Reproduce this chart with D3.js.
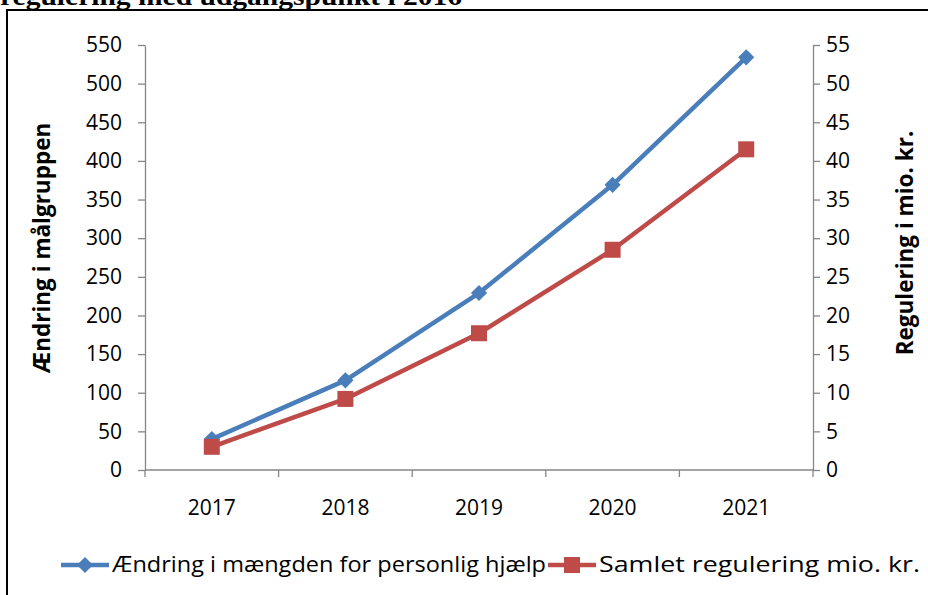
<!DOCTYPE html>
<html>
<head>
<meta charset="utf-8">
<script src="https://cdn.jsdelivr.net/npm/d3@7"></script>
<style>
  body { margin: 0; background: #fff; }
  svg { display: block; }
</style>
</head>
<body>
<svg id="chart" width="928" height="595"></svg>
<script>
// Data
var years = ['2017', '2018', '2019', '2020', '2021']
var maengde = [40, 116, 229, 369, 534]       // left axis
var regulering = [3.0, 9.2, 17.7, 28.5, 41.5] // right axis
var leftTicks = d3.range(0, 551, 50)
var rightTicks = d3.range(0, 56, 5)
var seriesNames = ['Ændring i mængden for personlig hjælp', 'Samlet regulering mio. kr.']

var font = '"Open Sans", Carlito, Calibri, sans-serif',
    axisColor = '#868686',
    blue = '#4a7ebb',
    red = '#be4b48'

var svg = d3.select('#chart')

// Cut-off heading from the page above the chart
svg.append('text')
  .attr('x', 0)
  .attr('y', 5)
  .attr('font-family', 'Liberation Serif, Times New Roman, serif')
  .attr('font-weight', 'bold')
  .attr('font-size', 26)
  .attr('textLength', 462)
  .attr('lengthAdjust', 'spacingAndGlyphs')
  .text('regulering med udgangspunkt i 2016')

// Chart frame
svg.append('rect')
  .attr('x', 7)
  .attr('y', 10)
  .attr('width', 940)
  .attr('height', 600)
  .attr('fill', 'none')
  .attr('stroke', '#000')
  .attr('stroke-width', 2)

// Scales
var x = d3.scaleBand().domain(years).range([145, 813])
var yL = d3.scaleLinear().domain([0, 550]).range([470, 45])
var yR = d3.scaleLinear().domain([0, 55]).range([470, 45])
var cx = function (d) { return x(d) + x.bandwidth() / 2 }

function styleAxis (g) {
  g.selectAll('path, line').attr('stroke', axisColor).attr('stroke-width', 1.3)
  g.selectAll('text').attr('font-family', font).attr('font-size', 21).attr('fill', '#000')
}

// Left axis
svg.append('g')
  .attr('transform', 'translate(145,0)')
  .call(d3.axisLeft(yL).tickValues(leftTicks).tickSize(7).tickSizeOuter(0).tickPadding(16))
  .call(styleAxis)

// Right axis
svg.append('g')
  .attr('transform', 'translate(813,0)')
  .call(d3.axisRight(yR).tickValues(rightTicks).tickSize(7).tickSizeOuter(0).tickPadding(6))
  .call(styleAxis)

// Bottom axis: labels centred in bands, ticks at band edges
var xg = svg.append('g')
  .attr('transform', 'translate(0,470)')
  .call(d3.axisBottom(x).tickSize(0).tickPadding(30))
  .call(styleAxis)
xg.select('.domain').remove()
xg.append('line')
  .attr('x1', 145).attr('x2', 813)
  .attr('stroke', axisColor).attr('stroke-width', 1.3)
xg.selectAll('.edge')
  .data(years.concat(['end']))
  .enter()
  .append('line')
  .attr('class', 'edge')
  .attr('x1', function (d) { return d === 'end' ? 813 : x(d) })
  .attr('x2', function (d) { return d === 'end' ? 813 : x(d) })
  .attr('y2', 7)
  .attr('stroke', axisColor)
  .attr('stroke-width', 1.3)

// Axis titles
svg.append('text')
  .attr('transform', 'translate(50,248) rotate(-90)')
  .attr('text-anchor', 'middle')
  .attr('font-family', font)
  .attr('font-weight', 'bold')
  .attr('font-size', 22.5)
  .text('Ændring i målgruppen')

svg.append('text')
  .attr('transform', 'translate(913,243) rotate(-90)')
  .attr('text-anchor', 'middle')
  .attr('font-family', font)
  .attr('font-weight', 'bold')
  .attr('font-size', 22.5)
  .text('Regulering i mio. kr.')

// Lines
var blueLine = d3.line().x(function (d, i) { return cx(years[i]) }).y(function (d) { return yL(d) })
var redLine = d3.line().x(function (d, i) { return cx(years[i]) }).y(function (d) { return yR(d) })

svg.append('path')
  .datum(maengde)
  .attr('d', blueLine)
  .attr('fill', 'none')
  .attr('stroke', blue)
  .attr('stroke-width', 4.5)
  .attr('stroke-linejoin', 'round')

svg.append('path')
  .datum(regulering)
  .attr('d', redLine)
  .attr('fill', 'none')
  .attr('stroke', red)
  .attr('stroke-width', 4.5)
  .attr('stroke-linejoin', 'round')

var diamond = d3.symbol().type(d3.symbolSquare).size(130)
var square = d3.symbol().type(d3.symbolSquare).size(256)

svg.selectAll('.blue-pt')
  .data(maengde)
  .enter()
  .append('path')
  .attr('class', 'blue-pt')
  .attr('d', diamond)
  .attr('transform', function (d, i) { return 'translate(' + cx(years[i]) + ',' + yL(d) + ') rotate(45)' })
  .attr('fill', blue)

svg.selectAll('.red-pt')
  .data(regulering)
  .enter()
  .append('path')
  .attr('class', 'red-pt')
  .attr('d', square)
  .attr('transform', function (d, i) { return 'translate(' + cx(years[i]) + ',' + yR(d) + ')' })
  .attr('fill', red)

// Legend
var legendY = 565
var legend = [
  { name: seriesNames[0], color: blue, sym: diamond, rot: 45, x0: 61, w: 434 },
  { name: seriesNames[1], color: red, sym: square, rot: 0, x0: 548, w: 321 }
]
var lg = svg.selectAll('.legend')
  .data(legend)
  .enter()
  .append('g')
  .attr('class', 'legend')
  .attr('transform', function (d) { return 'translate(' + d.x0 + ',' + legendY + ')' })
lg.append('line')
  .attr('x1', 0).attr('x2', 48)
  .attr('stroke', function (d) { return d.color })
  .attr('stroke-width', 4.5)
lg.append('path')
  .attr('d', function (d) { return d.sym() })
  .attr('transform', function (d) { return 'translate(24,0) rotate(' + d.rot + ')' })
  .attr('fill', function (d) { return d.color })
lg.append('text')
  .attr('x', 51)
  .attr('dy', '0.35em')
  .attr('font-family', font)
  .attr('font-size', 21)
  .attr('textLength', function (d) { return d.w })
  .attr('lengthAdjust', 'spacingAndGlyphs')
  .text(function (d) { return d.name })
</script>
</body>
</html>
